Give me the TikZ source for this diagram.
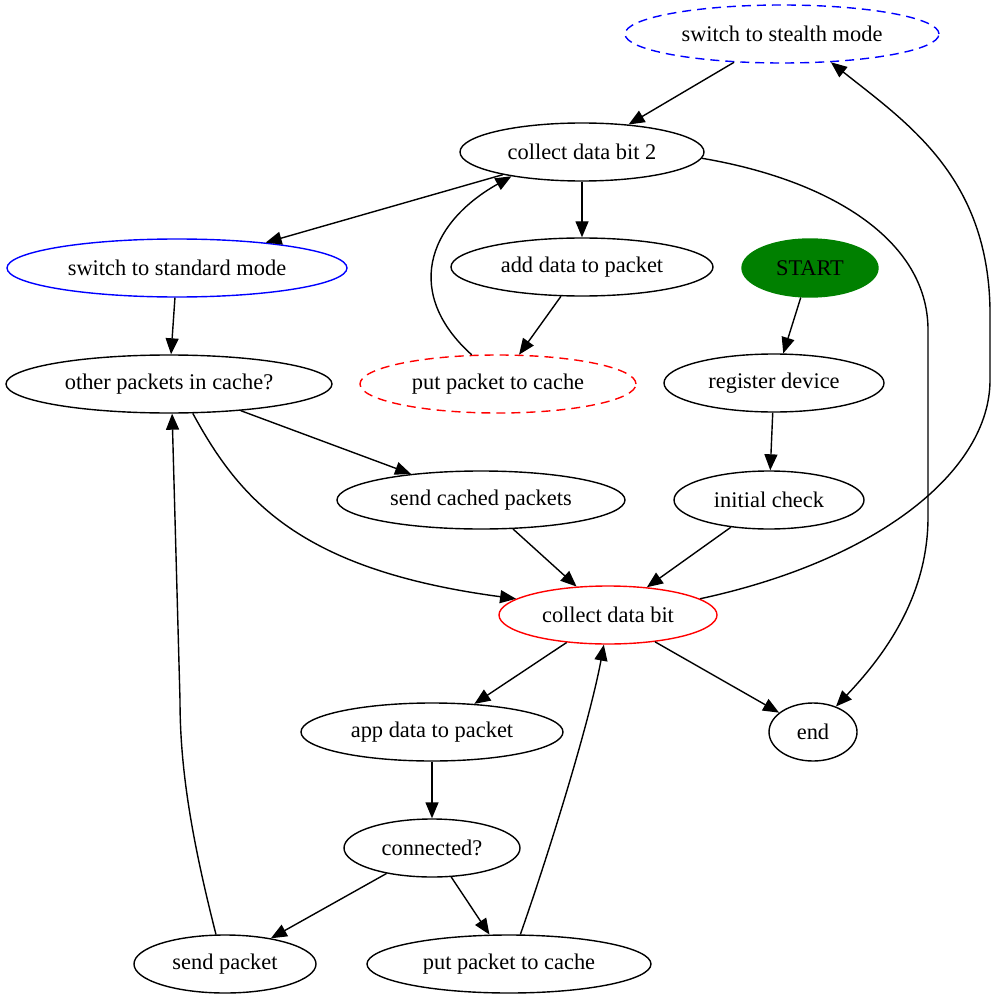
\documentclass[tikz,border=0pt]{standalone}
\usepackage{fontspec}
\setmainfont{Liberation Serif}
\usetikzlibrary{shapes.geometric,arrows.meta}
\definecolor{gvgreen}{HTML}{008000}
\definecolor{gvblue}{HTML}{0000FF}
\definecolor{gvred}{HTML}{FF0000}
\begin{document}
\begin{tikzpicture}[x=1pt,y=-1pt,
  gv/.style={ellipse, draw, line width=1.4pt, minimum height=58pt, inner sep=0pt,
    font=\fontsize{22.4}{26}\selectfont},
  gvdash/.style={dash pattern=on 9pt off 6pt},
  arr/.style={line width=1.4pt, -{Triangle[length=16pt,width=13pt]}}]
\useasboundingbox (0,0) rectangle (997,1000);

\node[gv, draw=gvblue, gvdash, minimum width=314pt] (stealth) at (782,34) {switch to stealth mode};
\node[gv, minimum width=244pt] (cdb2) at (582,152) {collect data bit 2};
\node[gv, draw=gvblue, minimum width=340pt] (standard) at (177,268) {switch to standard mode};
\node[gv, minimum width=262pt] (add) at (582,267) {add data to packet};
\node[gv, draw=gvgreen, fill=gvgreen, minimum width=136pt] (start) at (810,268) {START};
\node[gv, minimum width=326pt] (other) at (169,384) {other packets in cache?};
\node[gv, draw=gvred, gvdash, minimum width=276pt] (put1) at (498,384) {put packet to cache};
\node[gv, minimum width=220pt] (register) at (774,383) {register device};
\node[gv, minimum width=288pt] (sendcached) at (481,500) {send cached packets};
\node[gv, minimum width=190pt] (initial) at (769,500) {initial check};
\node[gv, draw=gvred, minimum width=218pt] (cdb) at (608,615) {collect data bit};
\node[gv, minimum width=262pt] (app) at (432,732) {app data to packet};
\node[gv, minimum width=88pt] (end) at (813,732) {end};
\node[gv, minimum width=176pt] (connected) at (432,848) {connected?};
\node[gv, minimum width=182pt] (sendpacket) at (225,964) {send packet};
\node[gv, minimum width=284pt] (put2) at (509,964) {put packet to cache};

% straight edges
\draw[arr] (stealth) -- (cdb2);
\draw[arr] (cdb2) -- (standard);
\draw[arr] (cdb2) -- (add);
\draw[arr] (add) -- (put1);
\draw[arr] (standard) -- (other);
\draw[arr] (start) -- (register);
\draw[arr] (register) -- (initial);
\draw[arr] (other) -- (sendcached);
\draw[arr] (sendcached) -- (cdb);
\draw[arr] (initial) -- (cdb);
\draw[arr] (cdb) -- (app);
\draw[arr] (cdb) -- (end);
\draw[arr] (app) -- (connected);
\draw[arr] (connected) -- (sendpacket);
\draw[arr] (connected) -- (put2);

% curved edges
\draw[arr] (put1.132) .. controls (405,295) and (425,225) .. (cdb2.199);
\draw[arr] (cdb2.-3) .. controls (830,180) and (928,240) .. (928,330)
  -- (928,517) .. controls (928,600) and (880,660) .. (end.48);
\draw[arr] (cdb.10) .. controls (880,560) and (990,470) .. (990,380)
  -- (990,320) .. controls (992,180) and (910,125) .. (stealth.-30);
\draw[arr] (other.-51) .. controls (240,500) and (300,570) .. (cdb.170);
\draw[arr] (put2.69) .. controls (550,850) and (590,720) .. (cdb.262);
\draw[arr] (sendpacket.107) .. controls (192,840) and (180,770) .. (180,700)
  -- (other.276);
\end{tikzpicture}
\end{document}
